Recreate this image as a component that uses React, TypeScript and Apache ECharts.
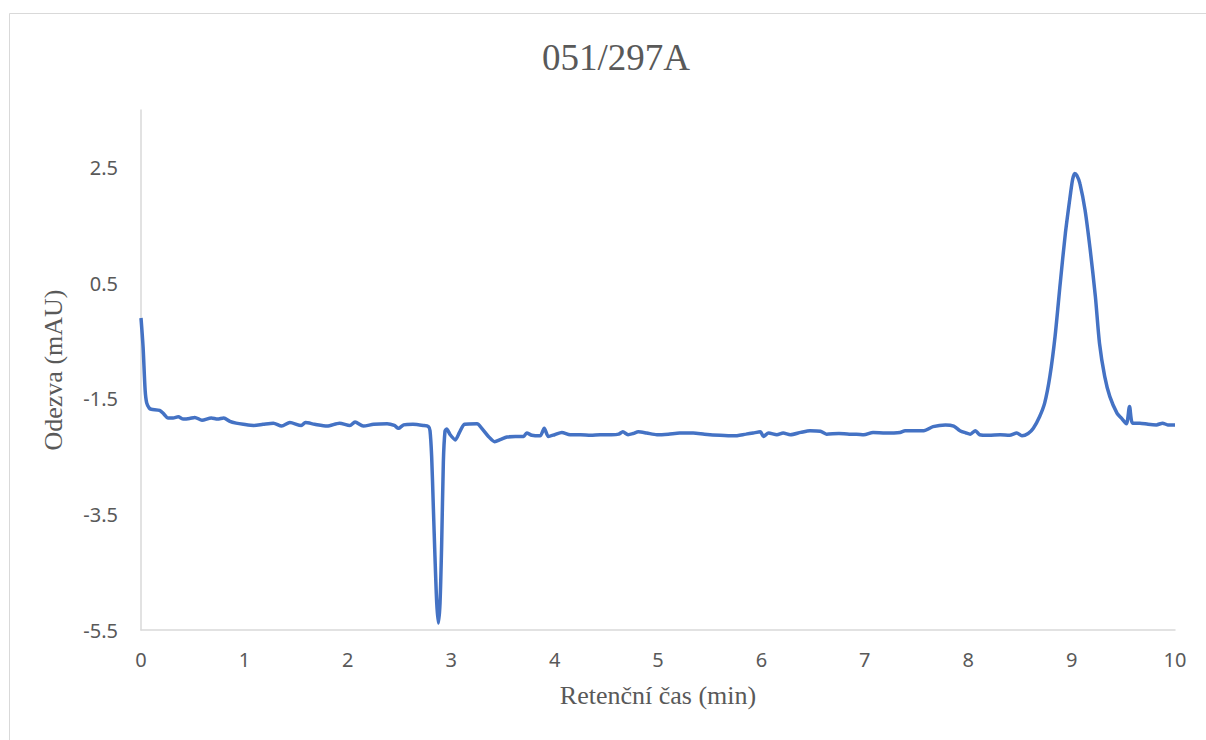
import React, { useEffect, useRef } from "react";
import * as echarts from "echarts";

const chartTitle = "051/297A";
const xAxisTitle = "Retenční čas (min)";
const yAxisTitle = "Odezva (mAU)";

const times: number[] = [
  0.0, 0.02, 0.04, 0.055, 0.08, 0.1, 0.18, 0.22, 0.26, 0.31, 0.36, 0.41, 0.47, 0.52, 0.59, 0.68, 0.74, 0.8, 0.86, 0.92,
  0.99, 1.09, 1.18, 1.28, 1.36, 1.44, 1.55, 1.59, 1.68, 1.8, 1.92, 2.02, 2.07, 2.15, 2.25, 2.38, 2.45, 2.49, 2.54, 2.63,
  2.73, 2.78, 2.795, 2.811, 2.827, 2.843, 2.86, 2.876, 2.892, 2.908, 2.924, 2.94, 2.956, 2.99, 3.04, 3.08, 3.13, 3.25, 3.3, 3.36,
  3.42, 3.48, 3.54, 3.62, 3.7, 3.73, 3.78, 3.86, 3.9, 3.94, 4.0, 4.07, 4.15, 4.25, 4.35, 4.44, 4.55, 4.62, 4.66, 4.71,
  4.76, 4.81, 4.89, 4.99, 5.1, 5.21, 5.34, 5.45, 5.6, 5.73, 5.85, 5.92, 5.99, 6.02, 6.07, 6.15, 6.21, 6.28, 6.38, 6.47,
  6.57, 6.63, 6.75, 6.85, 6.92, 6.99, 7.08, 7.2, 7.34, 7.39, 7.5, 7.57, 7.66, 7.78, 7.86, 7.92, 7.98, 8.02, 8.07, 8.11,
  8.2, 8.31, 8.4, 8.47, 8.52, 8.58, 8.63, 8.69, 8.74, 8.79, 8.84, 8.89, 8.94, 8.99, 9.01, 9.03, 9.05, 9.08, 9.13, 9.18,
  9.23, 9.27, 9.32, 9.37, 9.44, 9.48, 9.53, 9.56, 9.59, 9.66, 9.74, 9.82, 9.88, 9.93, 10.0,
];

const responses: number[] = [
  -0.1, -0.6, -1.35, -1.57, -1.66, -1.68, -1.7, -1.76, -1.83, -1.83, -1.81, -1.85, -1.84, -1.82, -1.87, -1.83, -1.85, -1.83, -1.89, -1.92,
  -1.94, -1.96, -1.94, -1.92, -1.97, -1.91, -1.96, -1.91, -1.94, -1.97, -1.92, -1.96, -1.9, -1.97, -1.94, -1.93, -1.96, -2.01, -1.95, -1.94,
  -1.96, -1.98, -2.05, -2.5, -3.36, -4.23, -5.03, -5.38, -5.03, -4.0, -2.6, -2.06, -2.02, -2.12, -2.21, -2.08, -1.94, -1.93, -2.02, -2.15,
  -2.24, -2.2, -2.16, -2.15, -2.15, -2.09, -2.13, -2.14, -2.01, -2.15, -2.12, -2.08, -2.12, -2.12, -2.13, -2.12, -2.12, -2.11, -2.07, -2.12,
  -2.1, -2.07, -2.09, -2.12, -2.11, -2.09, -2.09, -2.11, -2.13, -2.14, -2.11, -2.09, -2.07, -2.15, -2.09, -2.12, -2.09, -2.12, -2.08, -2.05,
  -2.06, -2.11, -2.1, -2.11, -2.11, -2.12, -2.08, -2.09, -2.08, -2.05, -2.05, -2.05, -1.98, -1.95, -1.97, -2.05, -2.09, -2.11, -2.05, -2.12,
  -2.13, -2.12, -2.13, -2.09, -2.14, -2.1, -2.01, -1.81, -1.57, -1.11, -0.42, 0.5, 1.37, 2.06, 2.3, 2.4, 2.37, 2.23, 1.77, 1.08,
  0.27, -0.54, -1.11, -1.46, -1.75, -1.83, -1.93, -1.63, -1.92, -1.92, -1.94, -1.95, -1.92, -1.95, -1.95,
];

const xTicks = { min: 0, max: 10, interval: 1 };
const yTicks = { min: -5.5, max: 3.5, interval: 2 };

export default function App() {
  const ref = useRef<HTMLDivElement>(null);
  useEffect(() => {
    if (!ref.current) return;
    const chart = echarts.init(ref.current, undefined, { renderer: "svg" });
    const data = times.map((t, i) => [t, responses[i]]);
    chart.setOption({
      animation: false,
      backgroundColor: "#ffffff",
      graphic: [
        {
          type: "rect",
          shape: { x: 9.5, y: 13.5, width: 1300, height: 800 },
          style: { fill: "none", stroke: "#d9d9d9", lineWidth: 1 },
          silent: true,
        },
      ],
      title: {
        text: chartTitle,
        left: 611,
        top: 34,
        textAlign: "center",
        textStyle: {
          fontFamily: "Liberation Serif, Times New Roman, serif",
          fontSize: 37,
          fontWeight: "normal",
          color: "#595959",
        },
      },
      grid: { left: 141, right: 31, top: 110, bottom: 110 },
      xAxis: {
        type: "value",
        min: xTicks.min,
        max: xTicks.max,
        interval: xTicks.interval,
        name: xAxisTitle,
        nameLocation: "middle",
        nameGap: 52,
        nameTextStyle: {
          fontFamily: "Liberation Serif, Times New Roman, serif",
          fontSize: 26,
          color: "#595959",
        },
        axisLine: { show: true, onZero: false, lineStyle: { color: "#d9d9d9", width: 1.5 } },
        axisTick: { show: false },
        splitLine: { show: false },
        axisLabel: {
          margin: 19,
          fontFamily: "Noto Sans, Open Sans, sans-serif",
          fontSize: 20,
          color: "#595959",
        },
      },
      yAxis: {
        type: "value",
        min: yTicks.min,
        max: yTicks.max,
        interval: yTicks.interval,
        name: yAxisTitle,
        nameLocation: "middle",
        nameGap: 75,
        nameTextStyle: {
          fontFamily: "Liberation Serif, Times New Roman, serif",
          fontSize: 26,
          color: "#595959",
        },
        axisLine: { show: true, onZero: false, lineStyle: { color: "#d9d9d9", width: 1.5 } },
        axisTick: { show: false },
        splitLine: { show: false },
        axisLabel: {
          margin: 23,
          showMaxLabel: false,
          fontFamily: "Noto Sans, Open Sans, sans-serif",
          fontSize: 20,
          color: "#595959",
          formatter: (v: number) => v.toFixed(1),
        },
      },
      series: [
        {
          type: "line",
          data,
          showSymbol: false,
          symbol: "none",
          smooth: 0.25,
          lineStyle: { color: "#4472C4", width: 3.5 },
        },
      ],
    });
    return () => chart.dispose();
  }, []);
  return (
    <div
      ref={ref}
      style={{ position: "fixed", left: 0, top: 0, width: 1206, height: 740 }}
    />
  );
}
